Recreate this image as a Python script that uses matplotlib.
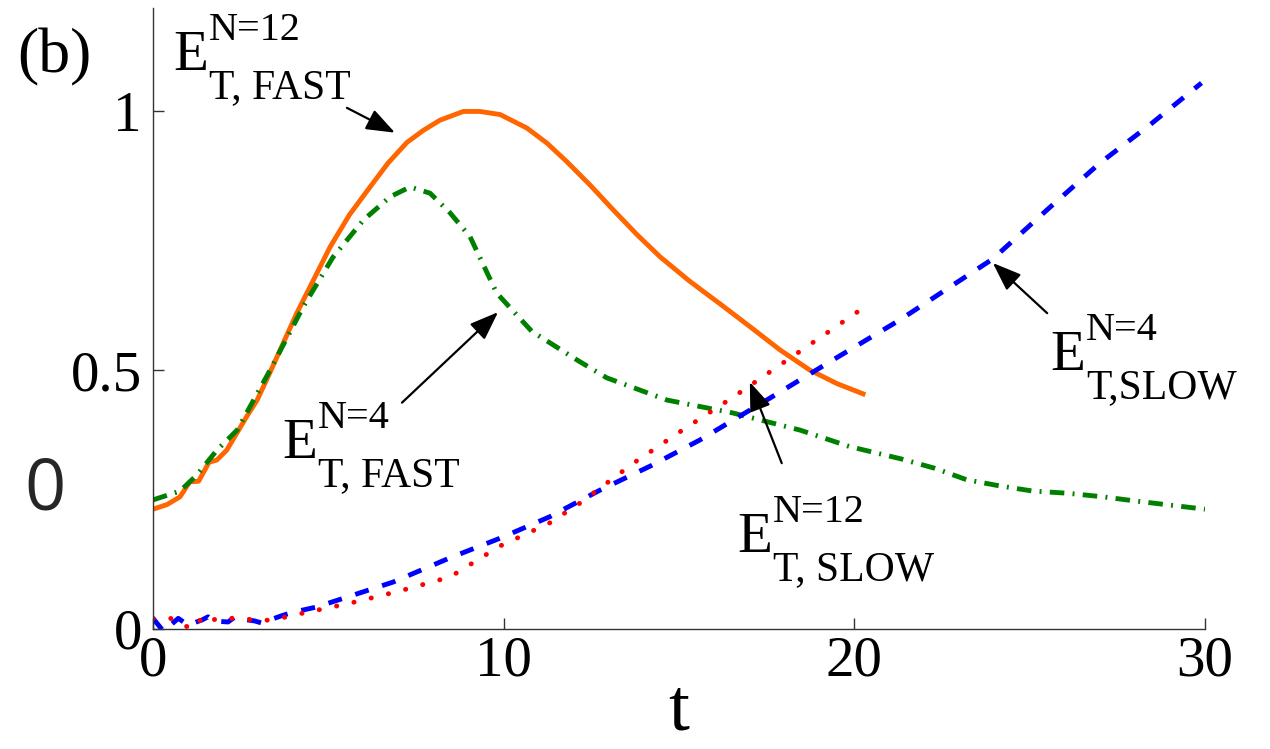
import numpy as np
import matplotlib
matplotlib.use("Agg")
import matplotlib.pyplot as plt

plt.rcParams['font.family'] = 'Liberation Serif'

# E_T, FAST for N=12 (orange, solid)
t_fast12 = [0, 0.4, 0.77, 1.05, 1.3, 1.6, 1.82, 2.1, 2.67, 2.97, 3.3, 4.1, 5.05, 5.6, 6.19,
            6.7, 7.24, 7.7, 8.18, 8.85, 9.32, 9.9, 10.66, 11.23, 11.8, 12.46, 13.12, 13.8,
            14.46, 15.3, 16.17, 17.1, 17.88, 18.73, 19.5, 20.25]
e_fast12 = [0.231, 0.24, 0.255, 0.284, 0.285, 0.322, 0.326, 0.345, 0.41, 0.442, 0.49, 0.61,
            0.738, 0.80, 0.854, 0.90, 0.94, 0.963, 0.983, 1.0, 1.0, 0.994, 0.968, 0.939,
            0.903, 0.858, 0.81, 0.762, 0.719, 0.672, 0.628, 0.580, 0.539, 0.5, 0.474, 0.454]

# E_T, FAST for N=4 (green, dash-dot)
t_fast4 = [0, 0.77, 1.25, 1.82, 2.4, 3.34, 4.28, 5.13, 6.0, 6.76, 7.33, 7.9, 8.47, 9.04, 9.8,
           10.8, 12.08, 12.94, 14.66, 16.54, 18.45, 19.87, 21.35, 22.3, 23.2, 24.15, 25.1,
           26.06, 27.09, 28.0, 29.0, 30.0]
e_fast4 = [0.249, 0.266, 0.297, 0.345, 0.384, 0.5, 0.622, 0.718, 0.79, 0.835, 0.854, 0.842,
           0.804, 0.758, 0.649, 0.575, 0.52, 0.485, 0.442, 0.417, 0.384, 0.352, 0.328, 0.31,
           0.288, 0.276, 0.266, 0.262, 0.255, 0.247, 0.239, 0.231]

# E_T, SLOW for N=4 (blue, dashed)
t_slow4 = [0, 0.3, 0.72, 1.0, 1.4, 1.57, 1.71, 2.14, 2.34, 2.48, 2.9, 3.1, 3.25, 3.71, 4.0,
           4.67, 5.53, 6.84, 8.47, 9.9, 11.3, 12.75, 14.2, 15.6, 17.5, 19.4, 21.3, 22.6,
           23.95, 25.5, 27.0, 28.5, 29.9]
e_slow4 = [0.02, -0.005, 0.02, 0.007, 0.017, 0.023, 0.015, 0.013, 0.023, 0.019, 0.015, 0.011,
           0.015, 0.026, 0.032, 0.042, 0.061, 0.09, 0.137, 0.175, 0.216, 0.268, 0.315, 0.365,
           0.442, 0.52, 0.597, 0.655, 0.715, 0.81, 0.9, 0.978, 1.055]

# E_T, SLOW for N=12 (red, dotted)
t_slow12 = [0, 0.5, 1.0, 1.25, 1.53, 1.8, 2.5, 3.1, 3.62, 4.13, 5.6, 7.04, 8.47, 9.9, 11.3,
            12.18, 13.7, 15.1, 16.55, 17.97, 19.2, 20.25]
e_slow12 = [0.02, 0.02, 0.003, 0.02, 0.007, 0.02, 0.02, 0.015, 0.02, 0.028, 0.049, 0.073,
            0.1, 0.16, 0.204, 0.243, 0.32, 0.384, 0.448, 0.514, 0.571, 0.62]

W, H = 1270, 749
fig = plt.figure(figsize=(W / 100, H / 100), dpi=100)
ax = fig.add_axes([153 / W, 1 - 628.7 / H, (1205 - 153) / W, (628.7 - 8) / H])

lw = 3.5
ax.plot(t_fast12, e_fast12, color='#ff6600', lw=lw, solid_joinstyle='round')
ax.plot(t_fast4, e_fast4, color='#008000', lw=lw, dashes=(3.0, 1.7, 0.4, 1.7))
ax.plot(t_slow4, e_slow4, color='#0000ff', lw=lw, dashes=(2.9, 2.9))
ax.plot(t_slow12, e_slow12, color='#ff0000', lw=lw, dashes=(0.05, 3.6),
        dash_capstyle='round')

ax.set_xlim(0, 30)
ax.set_ylim(0, 1.2)
ax.set_xticks([0, 10, 20, 30])
ax.set_xticklabels(['0', '10', '20', '30'])
ax.set_yticks([0, 0.5, 1])
ax.set_yticklabels(['0', '0.5', '1'])
for s in ['top', 'right']:
    ax.spines[s].set_visible(False)
for s in ['left', 'bottom']:
    ax.spines[s].set_color('#333333')
    ax.spines[s].set_linewidth(1.0)
ax.tick_params(direction='in', length=8, width=1, colors='#333333', labelcolor='black',
               labelsize=41)
ax.tick_params(axis='x', pad=5)
ax.tick_params(axis='y', pad=8)
ax.set_xlabel('t', fontsize=54, labelpad=-7)


def put(px, py, s, size, **kw):
    fig.text(px / W, 1 - py / H, s, fontsize=size, va='baseline', ha='left', **kw)


def elabel(px, py, sup, sub):
    put(px, py, 'E', 41)
    put(px + 36, py - 30, sup, 29)
    put(px + 36, py + 28, sub, 30)


elabel(173, 70, 'N=12', 'T, FAST')
elabel(282, 458, 'N=4', 'T, FAST')
elabel(737, 552, 'N=12', 'T, SLOW')
elabel(1050, 370, 'N=4', 'T,SLOW')

arrows = [((6.9, 0.959), (5.53, 1.007)),
          ((9.84, 0.612), (7.1, 0.437)),
          ((17.02, 0.477), (17.93, 0.32)),
          ((23.95, 0.707), (25.5, 0.61))]
for head, tail in arrows:
    ax.annotate('', xy=head, xytext=tail,
                arrowprops=dict(arrowstyle='-|>,head_length=0.8,head_width=0.3',
                                color='black', lw=1.6, mutation_scale=22,
                                shrinkA=0, shrinkB=0))

put(17, 72, '(b)', 46)
fig.text(45 / W, 1 - 491 / H, '0', fontsize=52, family='Open Sans', color='#262626',
         ha='center', va='center')

fig.savefig('out.png', dpi=100)
